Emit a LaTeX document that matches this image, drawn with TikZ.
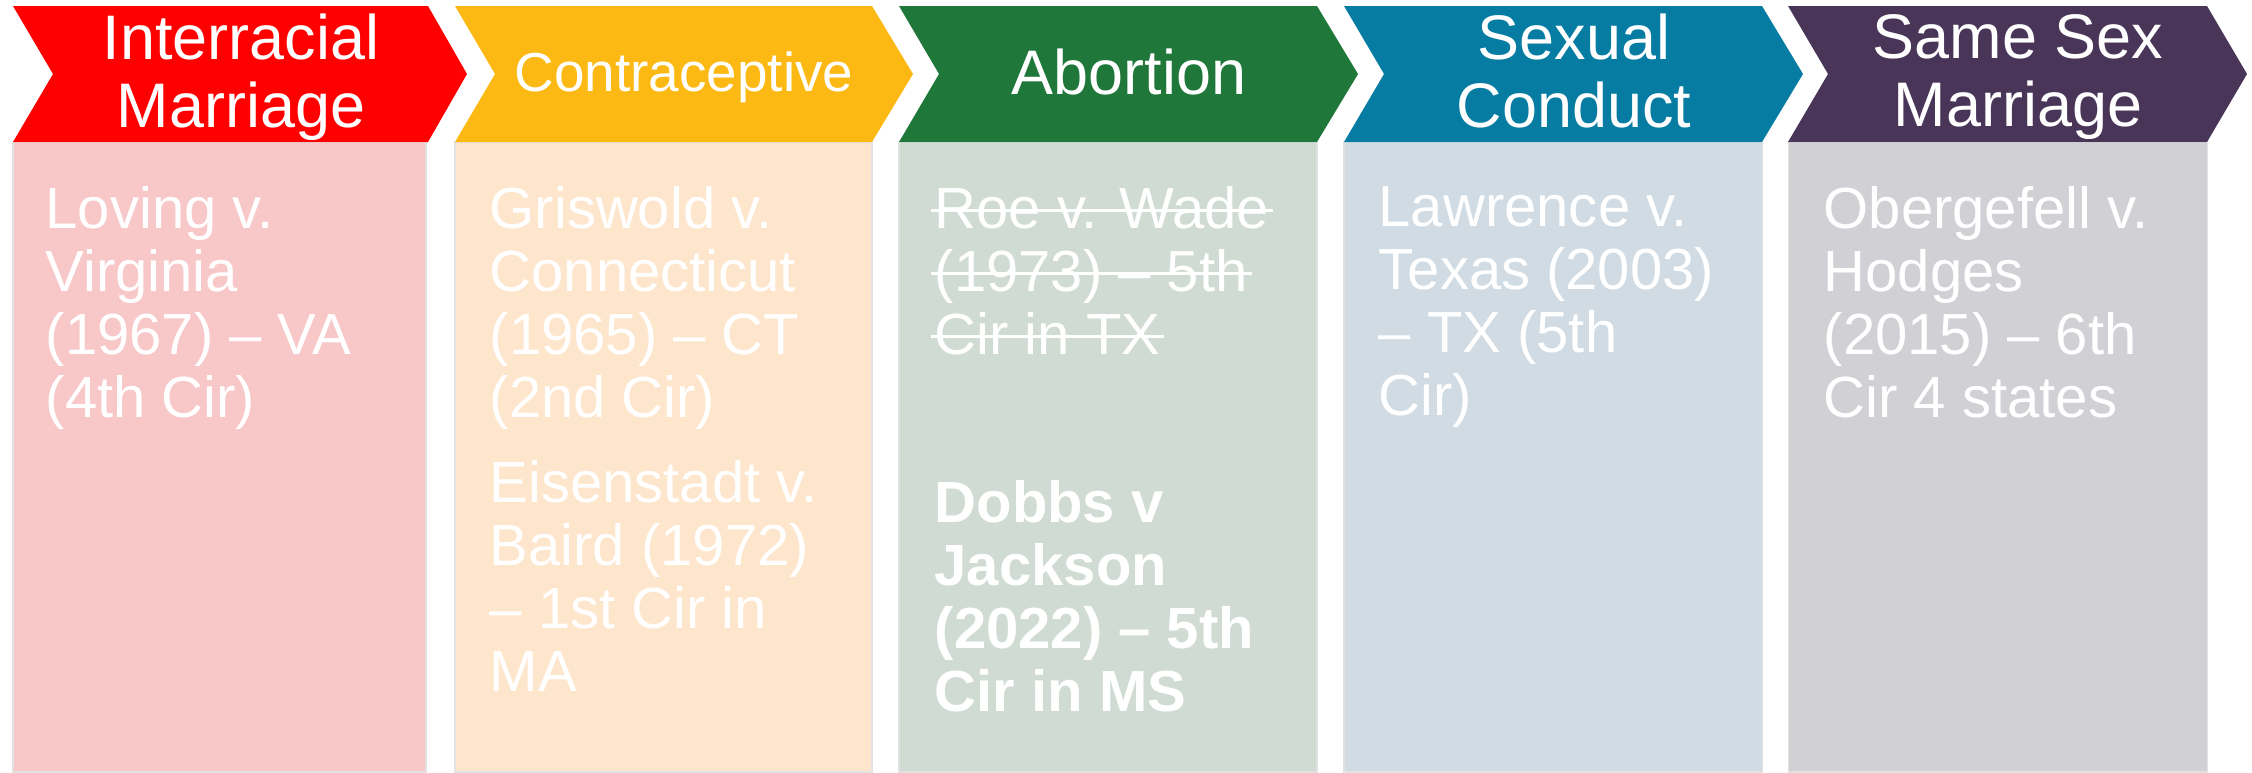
\documentclass[tikz,border=0pt]{standalone}
\usepackage{fontspec}
\setmainfont{Liberation Sans}
\usetikzlibrary{calc, positioning}
\definecolor{redhead}{HTML}{FF0000}
\definecolor{redbody}{HTML}{F8C7C8}
\definecolor{yellowhead}{HTML}{FDB913}
\definecolor{yellowbody}{HTML}{FEE6CD}
\definecolor{greenhead}{HTML}{1F773A}
\definecolor{greenbody}{HTML}{D0DBD3}
\definecolor{bluehead}{HTML}{067CA3}
\definecolor{bluebody}{HTML}{D0DBE3}
\definecolor{purplehead}{HTML}{483558}
\definecolor{purplebody}{HTML}{D1D1D5}
\definecolor{boxedge}{HTML}{E2E2E2}
\newcommand{\struck}[1]{\setbox0\hbox{#1}%
  \rlap{\hspace{-0.07em}\rule[0.29em]{\dimexpr\wd0+0.14em\relax}{0.9pt}}\box0}

\begin{document}
\begin{tikzpicture}[x=0.01cm, y=-0.01cm,
    head/.style={text=white, align=center, inner sep=0pt,
      font=\fontsize{17.9}{19.4}\selectfont,
      execute at begin node={\strut}, execute at end node={\strut}},
    body/.style={text=white, align=left, anchor=north west, inner sep=0pt,
      font=\fontsize{16.5}{17.9}\selectfont, execute at begin node={\strut}}]
    \useasboundingbox (0,0) rectangle (2252,772);

    % --- Positions (top left of each column) ---
    \coordinate (c1) at (13,6);
    \coordinate (c2) at (455,6);
    \coordinate (c3) at (899,6);
    \coordinate (c4) at (1344,6);
    \coordinate (c5) at (1788,6);

    % --- Body boxes ---
    \filldraw[redbody, draw=boxedge, line width=0.3pt] (c1) ++(0,136) rectangle ++(413,630);
    \filldraw[yellowbody, draw=boxedge, line width=0.3pt] (c2) ++(0,136) rectangle ++(417,630);
    \filldraw[greenbody, draw=boxedge, line width=0.3pt] (c3) ++(0,136) rectangle ++(418,630);
    \filldraw[bluebody, draw=boxedge, line width=0.3pt] (c4) ++(0,136) rectangle ++(418,630);
    \filldraw[purplebody, draw=boxedge, line width=0.3pt] (c5) ++(0,136) rectangle ++(419,630);

    % --- Chevrons ---
    \fill[redhead] (c1) -- ++(415,0) -- ++(39,68) -- ++(-39,68) -- ++(-415,0) -- ++(40,-68) -- cycle;
    \fill[yellowhead] (c2) -- ++(417,0) -- ++(41,68) -- ++(-41,68) -- ++(-417,0) -- ++(40,-68) -- cycle;
    \fill[greenhead] (c3) -- ++(418,0) -- ++(41,68) -- ++(-41,68) -- ++(-418,0) -- ++(40,-68) -- cycle;
    \fill[bluehead] (c4) -- ++(418,0) -- ++(41,68) -- ++(-41,68) -- ++(-418,0) -- ++(40,-68) -- cycle;
    \fill[purplehead] (c5) -- ++(419,0) -- ++(40,68) -- ++(-40,68) -- ++(-419,0) -- ++(40,-68) -- cycle;

    % --- Headers ---
    \node[head] (h1) at ($(c1)+(228,75)$) {Interracial\\Marriage};
    \node[head, font=\fontsize{15.6}{17}\selectfont] (h2) at ($(c2)+(229,74)$) {Contraceptive};
    \node[head] (h3) at ($(c3)+(230,75)$) {Abortion};
    \node[head] (h4) at ($(c4)+(230,75)$) {Sexual\\Conduct};
    \node[head] (h5) at ($(c5)+(230,75)$) {Same Sex\\Marriage};

    % --- Cases ---
    \node[body] (b1) at ($(c1)+(32,180)$)
      {Loving v.\\Virginia\\(1967) -- VA\\(4th Cir)};
    \node[body] (b2) at ($(c2)+(34,180)$)
      {Griswold v.\\Connecticut\\(1965) -- CT\\(2nd Cir)\\[0.22cm]
       Eisenstadt v.\\Baird (1972)\\-- 1st Cir in\\MA};
    \node[body] (b3) at ($(c3)+(35,180)$)
      {\struck{Roe v. Wade}\\\struck{(1973) -- 5th}\\\struck{Cir in TX}\\[1.05cm]
       \bfseries Dobbs v\\\bfseries Jackson\\\bfseries (2022) -- 5th\\\bfseries Cir in MS};
    \node[body] (b4) at ($(c4)+(34,180)$)
      {Lawrence v.\\Texas (2003)\\-- TX (5th\\Cir)};
    \node[body] (b5) at ($(c5)+(35,180)$)
      {Obergefell v.\\Hodges\\(2015) -- 6th\\Cir 4 states};
  \end{tikzpicture}
\end{document}
